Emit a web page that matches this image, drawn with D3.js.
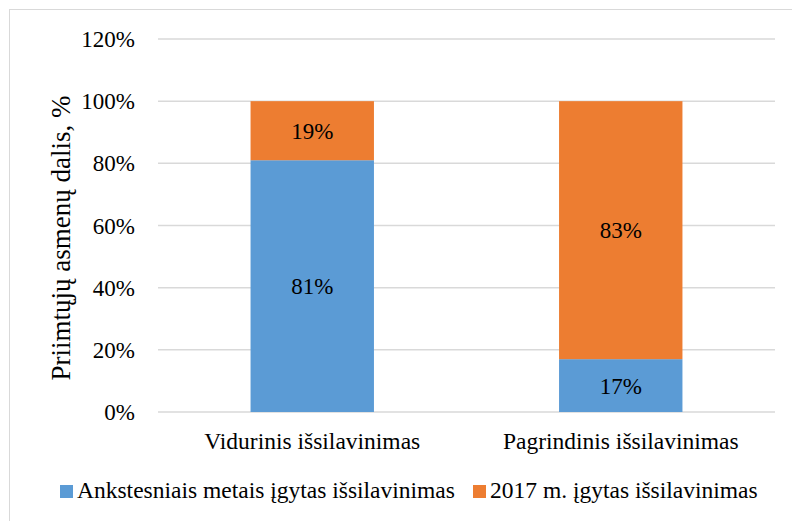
<!DOCTYPE html>
<html><head><meta charset="utf-8"><script src="https://cdn.jsdelivr.net/npm/d3@7"></script></head>
<body style="margin:0">
<svg id="chart" width="792" height="521"></svg>
<script>
const categories = ["Vidurinis išsilavinimas", "Pagrindinis išsilavinimas"];
const seriesNames = ["Ankstesniais metais įgytas išsilavinimas", "2017 m. įgytas išsilavinimas"];
const previousYears = [81, 17];
const year2017 = [19, 83];
const yTicks = [0, 20, 40, 60, 80, 100, 120];
const colors = ["#5b9bd5", "#ed7d31"];
const yTitle = "Priimtųjų asmenų dalis, %";

const FONT = "Liberation Serif";
const FS = 23.5;
const svg = d3.select("#chart");
const m = { left: 158, right: 775, top: 39, bottom: 412 };

// outer border
svg.append("rect").attr("x", 9.5).attr("y", 9.5).attr("width", 800).attr("height", 600)
  .attr("fill", "none").attr("stroke", "#d9d9d9").attr("stroke-width", 1);

const x = d3.scaleBand().domain(categories).range([m.left, m.right]).paddingInner(0.6).paddingOuter(0.3);
const y = d3.scaleLinear().domain([0, 120]).range([m.bottom, m.top]);

// gridlines
const grid = svg.append("g");
grid.selectAll("line").data(yTicks).join("line")
  .attr("x1", m.left).attr("x2", m.right)
  .attr("y1", d => y(d)).attr("y2", d => y(d))
  .attr("stroke", "#d9d9d9").attr("stroke-width", 1.5);

// y tick labels
const ylab = svg.append("g");
ylab.selectAll("text").data(yTicks).join("text")
  .attr("x", 135).attr("y", d => y(d) + 8)
  .attr("text-anchor", "end")
  .attr("font-family", FONT).attr("font-size", 23)
  .text(d => d + "%");

// stacked data
const rows = categories.map((c, i) => ({ cat: c, s0: previousYears[i], s1: year2017[i] }));
const stack = d3.stack().keys(["s0", "s1"])(rows);

stack.forEach((layer, li) => {
  const g = svg.append("g");
  g.selectAll("rect").data(layer).join("rect")
    .attr("x", d => x(d.data.cat))
    .attr("width", x.bandwidth())
    .attr("y", d => y(d[1]))
    .attr("height", d => y(d[0]) - y(d[1]))
    .attr("fill", colors[li]);
  g.selectAll("text").data(layer).join("text")
    .attr("x", d => x(d.data.cat) + x.bandwidth() / 2)
    .attr("y", d => (y(d[0]) + y(d[1])) / 2 + 8)
    .attr("text-anchor", "middle")
    .attr("font-family", FONT).attr("font-size", 23)
    .text(d => (d[1] - d[0]) + "%");
});

// x category labels
svg.append("g").selectAll("text").data(categories).join("text")
  .attr("x", d => x(d) + x.bandwidth() / 2)
  .attr("y", m.bottom + 37)
  .attr("text-anchor", "middle")
  .attr("font-family", FONT).attr("font-size", FS)
  .text(d => d);

// y title
svg.append("text")
  .attr("transform", "translate(70,238) rotate(-90)")
  .attr("text-anchor", "middle")
  .attr("font-family", FONT).attr("font-size", 27)
  .text(yTitle);

// legend
const legendItems = [{ x: 60, name: seriesNames[0], c: colors[0] }, { x: 473, name: seriesNames[1], c: colors[1] }];
legendItems.forEach(it => {
  svg.append("rect").attr("x", it.x).attr("y", 485).attr("width", 13).attr("height", 13).attr("fill", it.c);
  svg.append("text").attr("x", it.x + 17).attr("y", 498)
    .attr("font-family", FONT).attr("font-size", FS).text(it.name);
});
</script>
</body></html>
